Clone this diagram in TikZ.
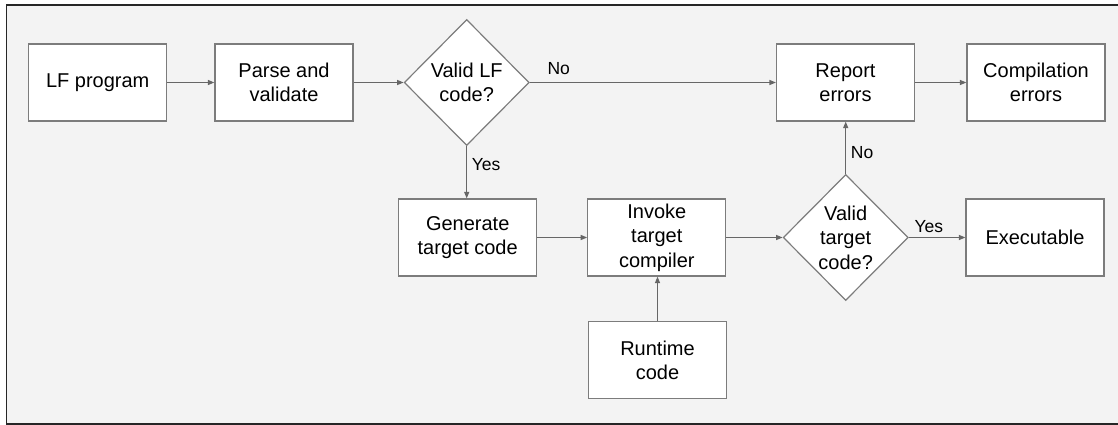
\documentclass[tikz,border=0pt]{standalone}
\usepackage{fontspec}
\setmainfont{Liberation Sans}
\usetikzlibrary{shapes.geometric,arrows.meta}
\definecolor{pagebg}{HTML}{F3F3F3}
\definecolor{edgegrey}{HTML}{7C7C7C}
\definecolor{linegrey}{HTML}{666666}
\definecolor{framedark}{HTML}{262626}
\begin{document}
\begin{tikzpicture}[x=1pt,y=-1pt,
  box/.style={draw=edgegrey, fill=white, line width=1.2pt,
    minimum width=138pt, minimum height=77pt, inner sep=0pt,
    align=center, font=\fontsize{20}{24.5}\selectfont},
  choice/.style={draw=edgegrey, fill=white, line width=1.2pt,
    shape=diamond, minimum width=125pt, minimum height=126pt, inner sep=0pt},
  choicetext/.style={align=center, inner sep=0pt,
    font=\fontsize{20}{24.5}\selectfont},
  lbl/.style={inner sep=0pt, anchor=base west,
    font=\fontsize{17.5}{21}\selectfont},
  flow/.style={draw=linegrey, line width=1.2pt,
    -{Triangle[length=6.5pt,width=5pt]}}]

% canvas and frame
\useasboundingbox (0,0) rectangle (1118,425);
\clip (0,0) rectangle (1118,425);
\fill[white] (0,0) rectangle (1118,425);
\fill[pagebg] (6.5,4.8) rectangle (1130,423.6);
\draw[framedark, line width=1.8pt] (6.5,4.8) rectangle (1130,423.6);

% top row
\node[box] (lf)     at (97.7,82.5)  {LF program};
\node[box] (parse)  at (284,82.5)   {Parse and\\validate};
\node[choice] (d1)  at (466.7,82.5) {};
\node[choicetext] (d1t) at (d1) {Valid LF\\code?};
\node[box] (report) at (845.5,82.5) {Report\\errors};
\node[box] (comp)   at (1036,82.5)  {Compilation\\errors};

% second row
\node[box] (gen)    at (467.7,237.5) {Generate\\target code};
\node[box] (inv)    at (656.8,237.5) {Invoke\\target\\compiler};
\node[choice] (d2)  at (845.7,237.5) {};
\node[choicetext] (d2t) at (d2) {Valid\\target\\code?};
\node[box] (exec)   at (1035,237.5)  {Executable};

% bottom
\node[box] (rt)     at (657.5,360.3) {Runtime\\code};

% connectors
\draw[flow] (lf) -- (parse);
\draw[flow] (parse) -- (d1.west);
\draw[flow] (d1.east) -- (report.west |- d1.east);
\draw[flow] (d1.south) -- (gen.north -| d1.south);
\draw[flow] (gen) -- (inv);
\draw[flow] (inv.east) -- (d2.west);
\draw[flow] (rt.north) -- (inv.south -| rt.north);
\draw[flow] (d2.north) -- (report.south -| d2.north);
\draw[flow] (d2.east) -- (exec.west |- d2.east);
\draw[flow] (report) -- (comp);

% branch labels
\node[lbl] (no1)  at (547.3,75)    {No};
\node[lbl] (yes1) at (471.7,170.7) {Yes};
\node[lbl] (no2)  at (850.7,158.3) {No};
\node[lbl] (yes2) at (914.3,232.7) {Yes};
\end{tikzpicture}
\end{document}
